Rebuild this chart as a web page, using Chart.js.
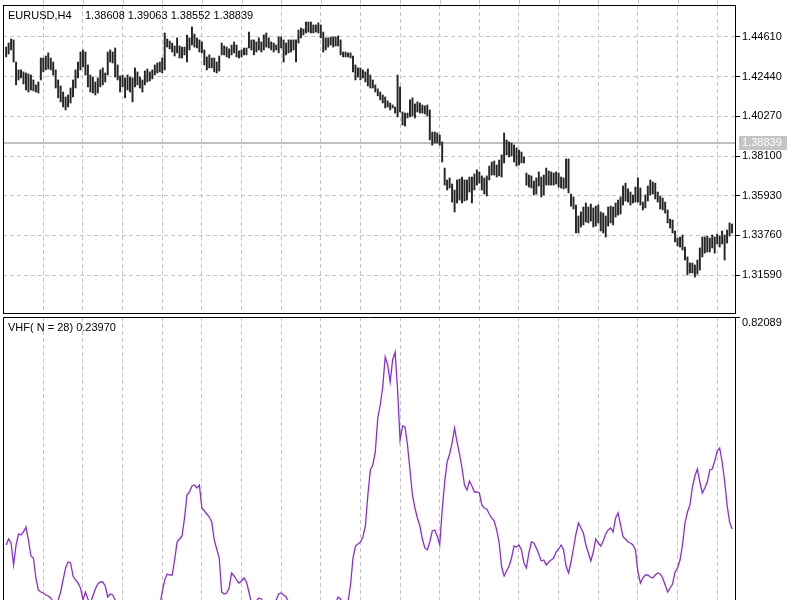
<!DOCTYPE html>
<html>
<head>
<meta charset="utf-8">
<script src="https://cdn.jsdelivr.net/npm/chart.js@4.4.1/dist/chart.umd.min.js"></script>
<style>
    html, body { margin: 0; padding: 0; background: #fff; overflow: hidden; width: 800px; height: 600px; }
    #price-chart { position: absolute; left: 0; top: 0; }
    #vhf-chart { position: absolute; left: 0; top: 314px; }
</style>
</head>
<body>
<canvas id="price-chart" width="800" height="316"></canvas>
<canvas id="vhf-chart" width="800" height="330"></canvas>
<script>
// Symbol info
const symbol = "EURUSD,H4";
const lastBar = [1.38608, 1.39063, 1.38552, 1.38839]; // open high low close
const currentPrice = 1.38839;
const vhfPeriod = 28;

// Axes
const priceTicks = [1.31590, 1.33760, 1.35930, 1.38100, 1.40270, 1.42440, 1.44610];
const priceMin = 1.29513;
const priceMax = 1.46360;
const vhfTop = 0.82089;
const vhfMin = -0.0701;
// bar numbers where the vertical grid lines sit
const gridBars = [15, 31, 47, 63, 79, 95, 111, 127, 143, 159, 175, 191, 207, 223, 239, 255, 271, 287];
const barMin = -1.27;
const barMax = 294.19;

// H4 bars, high and low
const highs = [
    1.4406, 1.4428, 1.4450, 1.4445, 1.4324, 1.4281, 1.4281, 1.4270, 1.4264, 1.4259, 1.4253, 1.4226, 1.4199, 1.4215, 1.4346, 1.4346,
    1.4357, 1.4374, 1.4346, 1.4324, 1.4281, 1.4226, 1.4193, 1.4160, 1.4133, 1.4144, 1.4182, 1.4226, 1.4281, 1.4324, 1.4379, 1.4390,
    1.4379, 1.4308, 1.4253, 1.4242, 1.4215, 1.4237, 1.4281, 1.4292, 1.4264, 1.4379, 1.4390, 1.4379, 1.4401, 1.4308, 1.4248, 1.4253,
    1.4237, 1.4253, 1.4242, 1.4237, 1.4292, 1.4270, 1.4242, 1.4226, 1.4275, 1.4286, 1.4270, 1.4281, 1.4308, 1.4319, 1.4324, 1.4346,
    1.4483, 1.4450, 1.4439, 1.4428, 1.4412, 1.4456, 1.4412, 1.4406, 1.4406, 1.4472, 1.4456, 1.4516, 1.4477, 1.4456, 1.4445, 1.4434,
    1.4390, 1.4352, 1.4363, 1.4346, 1.4346, 1.4324, 1.4357, 1.4428, 1.4412, 1.4406, 1.4396, 1.4417, 1.4434, 1.4417, 1.4385, 1.4390,
    1.4401, 1.4401, 1.4488, 1.4445, 1.4445, 1.4434, 1.4456, 1.4434, 1.4472, 1.4483, 1.4456, 1.4434, 1.4428, 1.4417, 1.4461, 1.4461,
    1.4445, 1.4428, 1.4445, 1.4445, 1.4445, 1.4445, 1.4499, 1.4510, 1.4505, 1.4543, 1.4543, 1.4543, 1.4527, 1.4527, 1.4538, 1.4527,
    1.4488, 1.4456, 1.4456, 1.4461, 1.4461, 1.4461, 1.4467, 1.4445, 1.4379, 1.4379, 1.4374, 1.4374, 1.4357, 1.4308, 1.4292, 1.4292,
    1.4281, 1.4270, 1.4286, 1.4253, 1.4226, 1.4199, 1.4177, 1.4160, 1.4144, 1.4133, 1.4111, 1.4100, 1.4089, 1.4078, 1.4253, 1.4188,
    1.4051, 1.4045, 1.4045, 1.4117, 1.4128, 1.4095, 1.4106, 1.4100, 1.4089, 1.4084, 1.4089, 1.4062, 1.3941, 1.3941, 1.3936, 1.3925,
    1.3887, 1.3744, 1.3679, 1.3690, 1.3657, 1.3624, 1.3679, 1.3684, 1.3695, 1.3679, 1.3679, 1.3695, 1.3695, 1.3712, 1.3734, 1.3723,
    1.3701, 1.3690, 1.3701, 1.3755, 1.3777, 1.3783, 1.3761, 1.3788, 1.3816, 1.3936, 1.3898, 1.3887, 1.3881, 1.3870, 1.3854, 1.3843,
    1.3832, 1.3805, 1.3717, 1.3706, 1.3701, 1.3673, 1.3690, 1.3723, 1.3695, 1.3706, 1.3744, 1.3728, 1.3723, 1.3717, 1.3723, 1.3717,
    1.3695, 1.3690, 1.3794, 1.3794, 1.3602, 1.3586, 1.3542, 1.3482, 1.3504, 1.3531, 1.3553, 1.3531, 1.3547, 1.3526, 1.3536, 1.3542,
    1.3504, 1.3498, 1.3482, 1.3531, 1.3536, 1.3531, 1.3553, 1.3569, 1.3586, 1.3646, 1.3662, 1.3630, 1.3613, 1.3597, 1.3640, 1.3690,
    1.3635, 1.3558, 1.3597, 1.3646, 1.3679, 1.3668, 1.3662, 1.3613, 1.3591, 1.3580, 1.3558, 1.3515, 1.3465, 1.3460, 1.3400, 1.3361,
    1.3367, 1.3378, 1.3312, 1.3258, 1.3225, 1.3225, 1.3214, 1.3241, 1.3307, 1.3367, 1.3367, 1.3372, 1.3361, 1.3378, 1.3367, 1.3383,
    1.3372, 1.3400, 1.3378, 1.3405, 1.3444, 1.3438
];
const lows = [
    1.4352, 1.4368, 1.4390, 1.4324, 1.4199, 1.4226, 1.4237, 1.4204, 1.4171, 1.4160, 1.4171, 1.4166, 1.4160, 1.4155, 1.4226, 1.4270,
    1.4281, 1.4286, 1.4281, 1.4253, 1.4182, 1.4128, 1.4106, 1.4078, 1.4062, 1.4078, 1.4100, 1.4133, 1.4182, 1.4237, 1.4281, 1.4297,
    1.4253, 1.4188, 1.4160, 1.4155, 1.4144, 1.4155, 1.4188, 1.4199, 1.4215, 1.4253, 1.4324, 1.4319, 1.4242, 1.4226, 1.4160, 1.4188,
    1.4128, 1.4171, 1.4160, 1.4106, 1.4188, 1.4199, 1.4182, 1.4160, 1.4199, 1.4215, 1.4221, 1.4232, 1.4253, 1.4264, 1.4270, 1.4264,
    1.4281, 1.4406, 1.4396, 1.4379, 1.4357, 1.4374, 1.4346, 1.4346, 1.4363, 1.4324, 1.4390, 1.4417, 1.4406, 1.4401, 1.4379, 1.4374,
    1.4308, 1.4281, 1.4292, 1.4292, 1.4270, 1.4264, 1.4275, 1.4363, 1.4363, 1.4352, 1.4346, 1.4363, 1.4374, 1.4352, 1.4346, 1.4352,
    1.4363, 1.4363, 1.4401, 1.4390, 1.4363, 1.4379, 1.4390, 1.4379, 1.4390, 1.4406, 1.4401, 1.4390, 1.4379, 1.4390, 1.4374, 1.4401,
    1.4324, 1.4363, 1.4374, 1.4379, 1.4390, 1.4324, 1.4428, 1.4456, 1.4472, 1.4483, 1.4488, 1.4483, 1.4483, 1.4488, 1.4483, 1.4456,
    1.4379, 1.4390, 1.4406, 1.4417, 1.4406, 1.4412, 1.4412, 1.4363, 1.4352, 1.4352, 1.4352, 1.4346, 1.4270, 1.4226, 1.4242, 1.4226,
    1.4237, 1.4215, 1.4193, 1.4182, 1.4182, 1.4160, 1.4139, 1.4117, 1.4100, 1.4073, 1.4078, 1.4062, 1.4073, 1.4045, 1.4024, 1.4051,
    1.3980, 1.3974, 1.4018, 1.4024, 1.4029, 1.4018, 1.4051, 1.4045, 1.4045, 1.4040, 1.4029, 1.3898, 1.3870, 1.3881, 1.3881, 1.3870,
    1.3777, 1.3651, 1.3624, 1.3635, 1.3558, 1.3504, 1.3553, 1.3569, 1.3553, 1.3564, 1.3569, 1.3613, 1.3553, 1.3624, 1.3651, 1.3662,
    1.3624, 1.3602, 1.3591, 1.3679, 1.3706, 1.3706, 1.3695, 1.3701, 1.3695, 1.3772, 1.3816, 1.3805, 1.3810, 1.3777, 1.3755, 1.3761,
    1.3772, 1.3772, 1.3651, 1.3640, 1.3635, 1.3597, 1.3602, 1.3646, 1.3586, 1.3597, 1.3651, 1.3651, 1.3651, 1.3651, 1.3657, 1.3640,
    1.3635, 1.3630, 1.3635, 1.3608, 1.3536, 1.3520, 1.3389, 1.3389, 1.3422, 1.3433, 1.3449, 1.3444, 1.3454, 1.3422, 1.3427, 1.3444,
    1.3400, 1.3389, 1.3367, 1.3427, 1.3444, 1.3433, 1.3476, 1.3487, 1.3493, 1.3542, 1.3564, 1.3558, 1.3542, 1.3553, 1.3558, 1.3558,
    1.3542, 1.3515, 1.3526, 1.3564, 1.3597, 1.3602, 1.3575, 1.3558, 1.3520, 1.3515, 1.3498, 1.3444, 1.3416, 1.3389, 1.3340, 1.3318,
    1.3312, 1.3296, 1.3241, 1.3159, 1.3170, 1.3170, 1.3148, 1.3164, 1.3186, 1.3258, 1.3279, 1.3285, 1.3285, 1.3307, 1.3279, 1.3329,
    1.3312, 1.3329, 1.3241, 1.3334, 1.3372, 1.3389
];

// Vertical Horizontal Filter, one value per bar
const vhf = [
    0.1958, 0.2123, 0.2013, 0.1410, 0.1958, 0.2260, 0.2232, 0.2315, 0.2452, 0.2095, 0.1657, 0.1602, 0.1054, 0.0725, 0.0670, 0.0642,
    0.0588, 0.0560, 0.0505, 0.0396, 0.0341, 0.0451, 0.0670, 0.0999, 0.1328, 0.1492, 0.1465, 0.1109, 0.0999, 0.0917, 0.0780, 0.0451,
    0.0670, 0.0478, 0.0368, 0.0560, 0.0752, 0.0889, 0.0944, 0.0944, 0.0834, 0.0533, 0.0615, 0.0588, 0.0451, 0.0314, 0.0231, 0.0177,
    0.0122, 0.0177, 0.0259, 0.0286, 0.0204, 0.0149, 0.0122, 0.0177, 0.0231, 0.0259, 0.0204, 0.0149, 0.0177, 0.0231, 0.0286, 0.0670,
    0.0999, 0.1163, 0.1136, 0.1136, 0.1547, 0.2041, 0.2123, 0.2205, 0.2699, 0.3329, 0.3411, 0.3576, 0.3603, 0.3521, 0.3603, 0.2973,
    0.2890, 0.2808, 0.2726, 0.2589, 0.2095, 0.1849, 0.1602, 0.0670, 0.0615, 0.0642, 0.0780, 0.1191, 0.1109, 0.0999, 0.0917, 0.0971,
    0.1054, 0.0944, 0.0670, 0.0368, 0.0341, 0.0423, 0.0505, 0.0478, 0.0368, 0.0286, 0.0231, 0.0259, 0.0314, 0.0451, 0.0615, 0.0642,
    0.0588, 0.0533, 0.0396, 0.0314, 0.0231, 0.0177, 0.0122, 0.0094, 0.0149, 0.0204, 0.0231, 0.0177, 0.0122, 0.0094, 0.0149, 0.0204,
    0.0259, 0.0231, 0.0177, 0.0204, 0.0286, 0.0368, 0.0533, 0.0478, 0.0368, 0.0314, 0.0396, 0.0862, 0.1602, 0.1931, 0.1986, 0.2041,
    0.2178, 0.2479, 0.3329, 0.4014, 0.4152, 0.4508, 0.5440, 0.5796, 0.6290, 0.7112, 0.6893, 0.6427, 0.7030, 0.7249, 0.6208, 0.4837,
    0.5221, 0.5193, 0.4700, 0.4014, 0.3329, 0.2973, 0.2699, 0.2479, 0.2123, 0.1876, 0.1821, 0.2041, 0.2342, 0.2370, 0.2205, 0.1958,
    0.2918, 0.3685, 0.4234, 0.4453, 0.4755, 0.5166, 0.4782, 0.4453, 0.4069, 0.3603, 0.3466, 0.3713, 0.3576, 0.3411, 0.3411, 0.3384,
    0.3055, 0.2973, 0.2945, 0.2808, 0.2699, 0.2616, 0.2370, 0.2013, 0.1355, 0.1109, 0.1246, 0.1383, 0.1602, 0.1931, 0.1903, 0.1958,
    0.1821, 0.1465, 0.1328, 0.1739, 0.2041, 0.2013, 0.1876, 0.1712, 0.1520, 0.1547, 0.1410, 0.1492, 0.1547, 0.1602, 0.1766, 0.1849,
    0.1958, 0.1821, 0.1383, 0.1191, 0.1492, 0.1876, 0.2260, 0.2561, 0.2424, 0.2287, 0.1958, 0.1739, 0.1520, 0.1766, 0.2123, 0.2013,
    0.1931, 0.2068, 0.2260, 0.2370, 0.2424, 0.2315, 0.2699, 0.2836, 0.2507, 0.2178, 0.2123, 0.2041, 0.2013, 0.1958, 0.1821, 0.1218,
    0.0917, 0.1054, 0.1136, 0.1136, 0.1081, 0.1054, 0.1136, 0.1191, 0.1163, 0.1054, 0.0862, 0.0670, 0.0780, 0.0889, 0.1218, 0.1328,
    0.1547, 0.1958, 0.2561, 0.2863, 0.3055, 0.3548, 0.3850, 0.4042, 0.3685, 0.3384, 0.3521, 0.3685, 0.4014, 0.4042, 0.4261, 0.4535,
    0.4618, 0.4234, 0.3713, 0.3055, 0.2589, 0.2397
];

// Styles
const gridColor = "#c4c4c4";
const fontFamily = "'Liberation Sans', Arial, sans-serif";
const font = "11px " + fontFamily;

// Shared x axis: one step per bar, grid lines at gridBars
function barAxis() {
    return {
        type: "linear",
        offset: false,
        min: barMin,
        max: barMax,
        afterBuildTicks: scale => { scale.ticks = gridBars.map(v => ({ value: v })); },
        afterFit: scale => { scale.height = 0; scale.paddingLeft = 0; scale.paddingRight = 0; },
        ticks: { display: false },
        grid: { color: gridColor, drawTicks: false, offset: false },
        border: { display: false, dash: [4, 3] }
    };
}

// Upper panel decorations: frame, price line, header
const pricePanel = {
    id: "pricePanel",
    beforeDraw(chart) {
        // grid dashes peeking above the frame
        const { ctx, chartArea: a, scales: { x } } = chart;
        ctx.save();
        ctx.strokeStyle = gridColor;
        ctx.setLineDash([4, 3]);
        ctx.beginPath();
        gridBars.forEach(v => {
            const px = Math.round(x.getPixelForValue(v)) + 0.5;
            ctx.moveTo(px, 0);
            ctx.lineTo(px, a.top);
        });
        ctx.stroke();
        ctx.restore();
    },
    beforeDatasetsDraw(chart) {
        const { ctx, chartArea: a, scales: { y } } = chart;
        const py = Math.round(y.getPixelForValue(currentPrice));
        ctx.save();
        ctx.strokeStyle = "#c0c0c0";
        ctx.lineWidth = 2;
        ctx.beginPath();
        ctx.moveTo(a.left, py);
        ctx.lineTo(a.right, py);
        ctx.stroke();
        ctx.restore();
    },
    afterDraw(chart) {
        const { ctx, chartArea: a, scales: { y } } = chart;
        ctx.save();
        ctx.strokeStyle = "#000";
        ctx.lineWidth = 1;
        ctx.strokeRect(a.left + 0.5, a.top + 0.5, a.right - a.left, a.bottom - a.top);

        // current price tag on the axis
        const py = Math.round(y.getPixelForValue(currentPrice));
        ctx.fillStyle = "#c4c4c4";
        ctx.fillRect(a.right + 4, py - 7, 48, 14);
        ctx.fillStyle = "#fff";
        ctx.font = font;
        ctx.textBaseline = "middle";
        ctx.fillText(currentPrice.toFixed(5), a.right + 7, py);

        // header
        ctx.fillStyle = "#000";
        ctx.textBaseline = "alphabetic";
        ctx.fillText(symbol, 8, 19);
        ctx.fillText(lastBar.map(v => v.toFixed(5)).join(" "), 85, 19);
        ctx.restore();
    }
};

// Lower panel decorations: frame, top value, header
const vhfPanel = {
    id: "vhfPanel",
    afterDraw(chart) {
        const { ctx, chartArea: a } = chart;
        ctx.save();
        ctx.strokeStyle = "#000";
        ctx.lineWidth = 1;
        ctx.beginPath();
        ctx.moveTo(a.left + 0.5, a.bottom);
        ctx.lineTo(a.left + 0.5, a.top + 0.5);
        ctx.lineTo(a.right + 0.5, a.top + 0.5);
        ctx.lineTo(a.right + 0.5, a.bottom);
        ctx.moveTo(a.right, a.top + 0.5);
        ctx.lineTo(a.right + 5, a.top + 0.5);
        ctx.stroke();

        ctx.fillStyle = "#000";
        ctx.font = font;
        ctx.textBaseline = "middle";
        ctx.fillText(vhfTop.toFixed(5), a.right + 7, a.top + 6);
        ctx.textBaseline = "alphabetic";
        ctx.fillText(`VHF( N = ${vhfPeriod}) ${vhf[vhf.length - 1].toFixed(5)}`, 8, a.top + 14);
        ctx.restore();
    }
};

// Price chart
const priceChart = new Chart(document.querySelector("#price-chart"), {
    type: "bar",
    data: {
        datasets: [{
            data: highs.map((h, i) => ({ x: i, y: [lows[i], h] })),
            backgroundColor: "#262626",
            borderWidth: 0,
            barThickness: 1.3,
            grouped: false
        }]
    },
    options: {
        responsive: false,
        animation: false,
        events: [],
        layout: { padding: { left: 3, top: 5, right: 0, bottom: 3 } },
        plugins: { legend: { display: false }, tooltip: { enabled: false } },
        scales: {
            x: barAxis(),
            y: {
                position: "right",
                min: priceMin,
                max: priceMax,
                afterBuildTicks: scale => { scale.ticks = priceTicks.map(v => ({ value: v })); },
                afterFit: scale => { scale.width = 65; scale.paddingTop = 0; scale.paddingBottom = 0; },
                ticks: {
                    color: "#000",
                    padding: 2,
                    font: { family: fontFamily, size: 11 },
                    callback: value => value.toFixed(5)
                },
                grid: { color: gridColor, tickColor: "#000", tickLength: 5, tickBorderDash: [] },
                border: { display: false, dash: [4, 3] }
            }
        }
    },
    plugins: [pricePanel]
});

// VHF chart
const vhfChart = new Chart(document.querySelector("#vhf-chart"), {
    type: "line",
    data: {
        datasets: [{
            data: vhf.map((v, i) => ({ x: i, y: v })),
            borderColor: "#8a2be2",
            borderWidth: 1.3,
            pointRadius: 0,
            fill: false
        }]
    },
    options: {
        responsive: false,
        animation: false,
        events: [],
        layout: { padding: { left: 3, top: 3, right: 0, bottom: 2 } },
        plugins: { legend: { display: false }, tooltip: { enabled: false } },
        scales: {
            x: barAxis(),
            y: {
                position: "right",
                min: vhfMin,
                max: vhfTop,
                afterFit: scale => { scale.width = 65; scale.paddingTop = 0; scale.paddingBottom = 0; },
                ticks: { display: false },
                grid: { display: false },
                border: { display: false }
            }
        }
    },
    plugins: [vhfPanel]
});
</script>
</body>
</html>
